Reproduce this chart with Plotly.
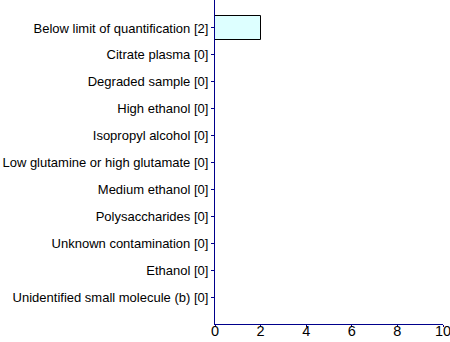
import plotly.graph_objects as go

# Sample flags and how many samples carry each one
categories = [
    "Below limit of quantification",
    "Citrate plasma",
    "Degraded sample",
    "High ethanol",
    "Isopropyl alcohol",
    "Low glutamine or high glutamate",
    "Medium ethanol",
    "Polysaccharides",
    "Unknown contamination",
    "Ethanol",
    "Unidentified small molecule (b)",
]
counts = [2, 0, 0, 0, 0, 0, 0, 0, 0, 0, 0]
x_ticks = [0, 2, 4, 6, 8, 10]

labels = [f"{c} [{n}]" for c, n in zip(categories, counts)]

axis_color = "#00008B"

fig = go.Figure()
fig.add_trace(
    go.Bar(
        x=counts,
        y=labels,
        orientation="h",
        width=0.86,
        marker=dict(color="#DDFFFF", line=dict(color="black", width=1)),
        hoverinfo="x+y",
    )
)
# empty helper trace so the label-carrying overlay axis gets drawn
fig.add_trace(
    go.Scatter(x=[], y=[], xaxis="x2", yaxis="y", mode="markers",
               showlegend=False, hoverinfo="skip")
)

fig.update_layout(
    width=450,
    height=342,
    margin=dict(l=215, r=7, t=0, b=18, autoexpand=False),
    paper_bgcolor="white",
    plot_bgcolor="white",
    font=dict(family="Liberation Sans, Arial, sans-serif", size=13, color="black"),
    showlegend=False,
    bargap=0,
)

# main x axis: line and short outside ticks, labels drawn by the overlay axis
fig.update_layout(
    xaxis=dict(
        range=[0, 10],
        tickvals=x_ticks,
        showticklabels=False,
        showgrid=False,
        zeroline=False,
        showline=True,
        linecolor=axis_color,
        linewidth=1,
        ticks="outside",
        ticklen=2,
        tickcolor=axis_color,
        automargin=False,
    ),
    # overlay axis carrying the tick labels, tucked tight under the axis line
    xaxis2=dict(
        overlaying="x",
        anchor="free",
        position=0.012,
        side="bottom",
        range=[0, 10],
        tickvals=x_ticks,
        ticktext=[str(v) for v in x_ticks],
        showgrid=False,
        zeroline=False,
        showline=False,
        ticks="",
        tickfont=dict(size=14.5),
        ticklabeloverflow="allow",
        automargin=False,
    ),
)

fig.update_yaxes(
    type="category",
    categoryorder="array",
    categoryarray=labels,
    range=[11.0, -1.04],
    showgrid=False,
    zeroline=False,
    showline=True,
    linecolor=axis_color,
    linewidth=1,
    ticks="outside",
    ticklen=3,
    tickcolor=axis_color,
    ticklabelstandoff=0,
    tickfont=dict(size=13),
    ticklabeloverflow="allow",
    automargin=False,
)

fig.write_html("out.html")
